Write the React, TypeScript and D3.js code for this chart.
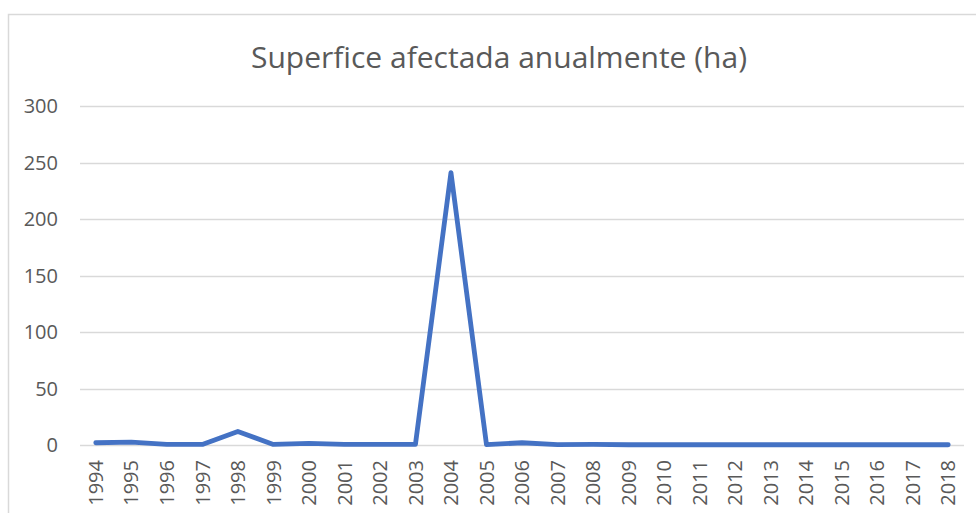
import { useEffect, useRef } from 'react'
import * as d3 from 'd3'

const years = [
  '1994', '1995', '1996', '1997', '1998', '1999', '2000', '2001', '2002', '2003',
  '2004', '2005', '2006', '2007', '2008', '2009', '2010', '2011', '2012', '2013',
  '2014', '2015', '2016', '2017', '2018',
]
const hectares = [
  2, 2.5, 0.5, 0.5, 12, 0.5, 1.5, 0.5, 0.5, 0.5,
  241, 0.3, 2, 0.3, 0.5, 0.2, 0.2, 0.2, 0.2, 0.2,
  0.2, 0.2, 0.2, 0.2, 0.2,
]
const yTicks = [0, 50, 100, 150, 200, 250, 300]
const title = 'Superfice afectada anualmente (ha)'

export default function App() {
  const ref = useRef<SVGSVGElement>(null)

  useEffect(() => {
    const width = 976
    const height = 513
    const svg = d3.select(ref.current)
    svg.selectAll('*').remove()
    svg.attr('viewBox', `0 0 ${width} ${height}`)

    const font = '"Open Sans", sans-serif'
    const textColor = '#595959'

    // chart frame
    svg.append('rect')
      .attr('x', 8.5).attr('y', 14.5)
      .attr('width', 1100).attr('height', 700)
      .attr('fill', '#fff')
      .attr('stroke', '#d9d9d9').attr('stroke-width', 1.5)

    svg.append('text')
      .attr('x', 499).attr('y', 68)
      .attr('text-anchor', 'middle')
      .style('font-family', font).style('font-size', '30px')
      .attr('fill', textColor)
      .text(title)

    const x = d3.scalePoint().domain(years).range([78, 966]).padding(0.5)
    const y = d3.scaleLinear().domain([0, 300]).range([445, 106])

    // gridlines
    svg.append('g').selectAll('line').data(yTicks).enter().append('line')
      .attr('x1', 80).attr('x2', 964)
      .attr('y1', d => Math.round(y(d)) + 0.5).attr('y2', d => Math.round(y(d)) + 0.5)
      .attr('stroke', '#d9d9d9').attr('stroke-width', 1.5)

    // y labels
    svg.append('g').selectAll('text').data(yTicks).enter().append('text')
      .attr('x', 58).attr('y', d => y(d))
      .attr('dy', '0.36em')
      .attr('text-anchor', 'end')
      .style('font-family', font).style('font-size', '20px')
      .attr('fill', textColor)
      .text(d => d)

    // x labels
    svg.append('g').selectAll('text').data(years).enter().append('text')
      .attr('transform', d => `translate(${x(d)},460) rotate(-90)`)
      .attr('dy', '0.36em')
      .attr('text-anchor', 'end')
      .style('font-family', font).style('font-size', '20px')
      .attr('fill', textColor)
      .text(d => d)

    const line = d3.line<number>()
      .x((_, i) => x(years[i]) as number)
      .y(d => y(d))

    svg.append('path')
      .datum(hectares)
      .attr('d', line)
      .attr('fill', 'none')
      .attr('stroke', '#4472c4')
      .attr('stroke-width', 4.8)
      .attr('stroke-linejoin', 'round')
      .attr('stroke-linecap', 'round')
  }, [])

  return (
    <svg
      ref={ref}
      width={976}
      height={513}
      style={{ position: 'absolute', left: 0, top: 0, display: 'block', background: '#fff' }}
    />
  )
}
